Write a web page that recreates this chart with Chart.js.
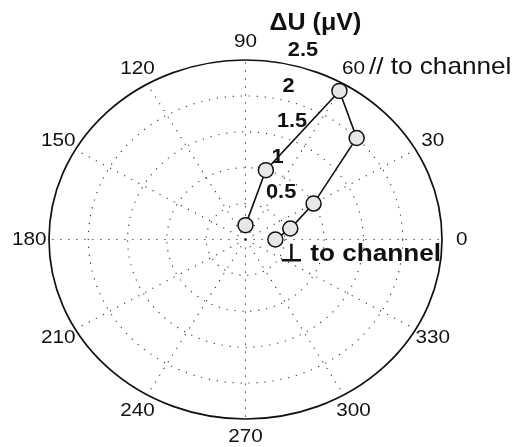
<!DOCTYPE html>
<html>
<head>
<meta charset="utf-8">
<script src="https://cdn.jsdelivr.net/npm/chart.js@4"></script>
<style>
    body { margin: 0; background: #fff; }
</style>
</head>
<body>
<canvas id="polar-chart" width="518" height="447"></canvas>
<script>
// angle in degrees, amplitude in microvolts
const angles = [0, 15, 30, 45, 60, 75, 90];
const amplitudes = [0.38, 0.59, 1.0, 2.0, 2.39, 1.0, 0.2];

const rMax = 2.5;
const ringTicks = [0.5, 1, 1.5, 2, 2.5];
const spokeAngles = [0, 30, 60, 90, 120, 150, 180, 210, 240, 270, 300, 330];

const FONT = "'Liberation Sans', Arial, sans-serif";
const STRETCH = 1.09;

document.addEventListener("DOMContentLoaded", function () {
    const rad = d => d * Math.PI / 180;

    const points = angles.map((a, i) => ({
        x: amplitudes[i] * Math.cos(rad(a)),
        y: amplitudes[i] * Math.sin(rad(a)),
    }));

    function drawText(ctx, text, x, y) {
        ctx.save();
        ctx.translate(x, y);
        ctx.scale(STRETCH, 1);
        ctx.fillText(text, 0, 0);
        ctx.restore();
    }

    const polarGrid = {
        id: "polarGrid",
        beforeDatasetsDraw(chart) {
            const ctx = chart.ctx;
            const xs = chart.scales.x;
            const ys = chart.scales.y;
            const cx = xs.getPixelForValue(0);
            const cy = ys.getPixelForValue(0);
            const kx = xs.getPixelForValue(1) - cx;
            const ky = cy - ys.getPixelForValue(1);

            ctx.save();
            ctx.strokeStyle = "#333";
            ctx.lineWidth = 1.1;
            ctx.setLineDash([1.2, 6.8]);
            ringTicks.slice(0, -1).forEach(r => {
                ctx.beginPath();
                ctx.ellipse(cx, cy, r * kx, r * ky, 0, 0, Math.PI * 2);
                ctx.stroke();
            });
            spokeAngles.forEach(a => {
                ctx.beginPath();
                ctx.moveTo(cx, cy);
                ctx.lineTo(cx + rMax * kx * Math.cos(rad(a)), cy - rMax * ky * Math.sin(rad(a)));
                ctx.stroke();
            });
            ctx.setLineDash([]);
            ctx.strokeStyle = "#111";
            ctx.lineWidth = 1.7;
            ctx.beginPath();
            ctx.ellipse(cx, cy, rMax * kx, rMax * ky, 0, 0, Math.PI * 2);
            ctx.stroke();

            // angle labels
            ctx.fillStyle = "#111";
            ctx.font = "19px " + FONT;
            ctx.textAlign = "center";
            ctx.textBaseline = "middle";
            spokeAngles.forEach(a => {
                const r = rMax * 1.1;
                drawText(ctx, String(a), cx + r * kx * Math.cos(rad(a)), cy - r * ky * Math.sin(rad(a)));
            });

            // radial tick labels
            ctx.font = "bold 20px " + FONT;
            ctx.textAlign = "left";
            ringTicks.forEach(r => {
                const x = xs.getPixelForValue(r * Math.cos(rad(82))) + 15;
                const y = ys.getPixelForValue(r * Math.sin(rad(82))) - 11;
                drawText(ctx, String(r), x, y);
            });
            ctx.restore();
        },
        afterDatasetsDraw(chart) {
            const ctx = chart.ctx;
            const xs = chart.scales.x;
            const ys = chart.scales.y;
            ctx.save();
            ctx.fillStyle = "#111";
            ctx.textAlign = "center";
            ctx.textBaseline = "middle";
            ctx.font = "bold 23px " + FONT;
            drawText(ctx, "\u0394U (\u03bcV)", xs.getPixelForValue(0.89), ys.getPixelForValue(3.0));

            ctx.textAlign = "left";
            ctx.textBaseline = "alphabetic";
            ctx.font = "24px " + FONT;
            drawText(ctx, "// to channel", xs.getPixelForValue(1.57), ys.getPixelForValue(2.31));
            ctx.font = "bold 24px " + FONT;
            drawText(ctx, "\u22a5 to channel", xs.getPixelForValue(0.44), ys.getPixelForValue(-0.3));
            ctx.restore();
        },
    };

    const ctx = document.getElementById("polar-chart").getContext("2d");
    new Chart(ctx, {
        type: "scatter",
        data: {
            datasets: [{
                data: points,
                showLine: true,
                borderColor: "#111",
                borderWidth: 1.6,
                pointRadius: 7.5,
                pointBorderWidth: 1.5,
                pointBorderColor: "#111",
                pointBackgroundColor: "#e5e7e8",
                tension: 0,
            }],
        },
        options: {
            responsive: false,
            animation: false,
            layout: { padding: { left: 49, right: 76, top: 60, bottom: 28 } },
            plugins: {
                legend: { display: false },
                tooltip: { enabled: false },
            },
            scales: {
                x: { type: "linear", min: -rMax, max: rMax, display: false },
                y: { type: "linear", min: -rMax, max: rMax, display: false },
            },
        },
        plugins: [polarGrid],
    });
});
</script>
</body>
</html>
